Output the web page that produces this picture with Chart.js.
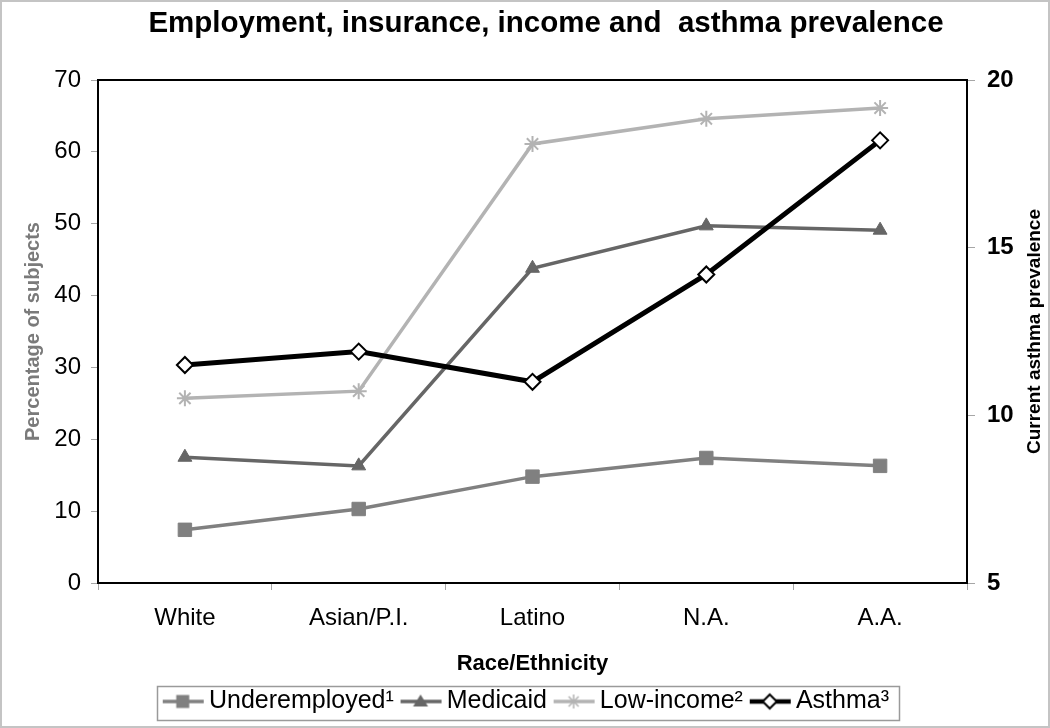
<!DOCTYPE html>
<html><head><meta charset="utf-8">
<script src="https://cdn.jsdelivr.net/npm/chart.js@4"></script>
<style>html,body{margin:0;padding:0;background:#fff}#wrap{width:1050px;height:728px;position:relative}</style>
</head><body><div id="wrap"><canvas id="c" width="1050" height="728"></canvas></div>
<script>
const categories = ['White', 'Asian/P.I.', 'Latino', 'N.A.', 'A.A.'];
const underemployed = [7.4, 10.3, 14.8, 17.4, 16.3];
const medicaid = [17.5, 16.3, 43.8, 49.7, 49.1];
const lowIncome = [25.7, 26.7, 61.1, 64.6, 66.1];
const asthma = [11.5, 11.9, 11.0, 14.2, 18.2];
const seriesNames = ['Underemployed\u00B9', 'Medicaid', 'Low-income\u00B2', 'Asthma\u00B3'];
const leftAxisRange = [0, 70, 10];
const rightAxisRange = [5, 20, 5];
const chartTitle = 'Employment, insurance, income and  asthma prevalence';
const xTitle = 'Race/Ethnicity';
const yTitle = 'Percentage of subjects';
const y1Title = 'Current asthma prevalence';

const FONT = "'Liberation Sans', Arial, sans-serif";
Chart.defaults.font.family = FONT;
Chart.defaults.color = '#000';

function makeSample(kind, color, lw, fill) {
  const c = document.createElement('canvas');
  c.width = 52; c.height = 22;
  const g = c.getContext('2d');
  const cy = 11, cx = 30;
  g.strokeStyle = color; g.lineWidth = lw;
  g.beginPath(); g.moveTo(10, cy); g.lineTo(51, cy); g.stroke();
  g.fillStyle = fill || color;
  if (kind === 'rect') {
    g.fillRect(cx - 6.5, cy - 6.5, 13, 13);
  } else if (kind === 'tri') {
    g.beginPath(); g.moveTo(cx, cy - 7); g.lineTo(cx + 7.5, cy + 5); g.lineTo(cx - 7.5, cy + 5); g.closePath(); g.fill();
  } else if (kind === 'star') {
    g.lineWidth = 1.5;
    g.beginPath();
    g.moveTo(cx - 7, cy); g.lineTo(cx + 7, cy);
    g.moveTo(cx, cy - 7); g.lineTo(cx, cy + 7);
    g.moveTo(cx - 5, cy - 5); g.lineTo(cx + 5, cy + 5);
    g.moveTo(cx - 5, cy + 5); g.lineTo(cx + 5, cy - 5);
    g.stroke();
  } else if (kind === 'diamond') {
    g.beginPath(); g.moveTo(cx, cy - 7); g.lineTo(cx + 7, cy); g.lineTo(cx, cy + 7); g.lineTo(cx - 7, cy); g.closePath();
    g.fillStyle = '#fff'; g.fill(); g.lineWidth = 2; g.strokeStyle = '#000'; g.stroke();
  }
  return c;
}
const samples = [
  makeSample('rect', '#808080', 3.5),
  makeSample('tri', '#666666', 3.5),
  makeSample('star', '#b3b3b3', 3.5),
  makeSample('diamond', '#000000', 4.5)
];

const decor = {
  id: 'decor',
  beforeDraw(chart) {
    const ctx = chart.ctx;
    ctx.save();
    ctx.fillStyle = '#fff';
    ctx.fillRect(0, 0, chart.width, chart.height);
    ctx.strokeStyle = '#c4c4c4';
    ctx.lineWidth = 2;
    ctx.strokeRect(1, 1, chart.width - 2, chart.height - 2);
    ctx.restore();
  },
  beforeDatasetsDraw(chart) {
    const {ctx, chartArea: a} = chart;
    ctx.save();
    ctx.strokeStyle = '#000';
    ctx.lineWidth = 2;
    ctx.strokeRect(a.left, a.top, a.right - a.left, a.bottom - a.top);
    ctx.restore();
  },
  afterDraw(chart) {
    const ctx = chart.ctx;
    const a = chart.chartArea;
    // chart title
    ctx.save();
    ctx.font = 'bold 29.5px ' + FONT;
    ctx.fillStyle = '#000';
    ctx.textAlign = 'center';
    ctx.textBaseline = 'middle';
    ctx.fillText(chartTitle, 546, 24);
    ctx.restore();
    // right axis title, reading bottom-to-top
    ctx.save();
    ctx.translate(1035, (a.top + a.bottom) / 2);
    ctx.rotate(-Math.PI / 2);
    ctx.font = 'bold 19px ' + FONT;
    ctx.fillStyle = '#000';
    ctx.textAlign = 'center';
    ctx.textBaseline = 'middle';
    ctx.fillText(y1Title, 0, 0);
    ctx.restore();
    // legend frame
    const hb = chart.legend.legendHitBoxes;
    if (hb && hb.length) {
      const last = hb[hb.length - 1];
      const cy = hb[0].top + hb[0].height / 2 + 1;
      const l = hb[0].left - 4, r = last.left + last.width + 10;
      ctx.save();
      ctx.strokeStyle = '#9a9a9a';
      ctx.lineWidth = 1.5;
      ctx.strokeRect(Math.round(l) + 0.5, Math.round(cy - 17) + 0.5, Math.round(r - l), 34);
      ctx.restore();
    }
  }
};

new Chart(document.getElementById('c'), {
  type: 'line',
  data: {
    labels: categories,
    datasets: [
      {label: seriesNames[0], data: underemployed, yAxisID: 'y', order: 3,
       borderColor: '#808080', backgroundColor: '#808080', borderWidth: 3.5,
       pointStyle: 'rect', pointRadius: 9.5, pointBorderWidth: 1, pointBackgroundColor: '#808080', pointBorderColor: '#808080'},
      {label: seriesNames[1], data: medicaid, yAxisID: 'y', order: 2,
       borderColor: '#666666', backgroundColor: '#666666', borderWidth: 3.5,
       pointStyle: 'triangle', pointRadius: 8, pointBorderWidth: 1, pointBackgroundColor: '#666666', pointBorderColor: '#666666'},
      {label: seriesNames[2], data: lowIncome, yAxisID: 'y', order: 1,
       borderColor: '#b3b3b3', backgroundColor: '#b3b3b3', borderWidth: 3.5,
       pointStyle: 'star', pointRadius: 8, pointBorderWidth: 2, pointBorderColor: '#b3b3b3'},
      {label: seriesNames[3], data: asthma, yAxisID: 'y1', order: 0,
       borderColor: '#000000', backgroundColor: '#ffffff', borderWidth: 5,
       pointStyle: 'rectRot', pointRadius: 8, pointBorderWidth: 2, pointBackgroundColor: '#ffffff', pointBorderColor: '#000000'}
    ]
  },
  options: {
    responsive: false,
    devicePixelRatio: 1,
    animation: false,
    layout: {padding: {left: 0, right: 0, top: 80, bottom: 4}},
    elements: {line: {tension: 0}},
    plugins: {
      title: {display: false},
      legend: {
        display: true, position: 'bottom',
        labels: {
          usePointStyle: true, pointStyleWidth: 35.5, padding: 5,
          font: {size: 25}, color: '#000',
          generateLabels: (chart) => chart.data.datasets.map((ds, i) => ({
            text: ds.label, pointStyle: samples[i], fillStyle: 'rgba(0,0,0,0)',
            strokeStyle: 'rgba(0,0,0,0)', lineWidth: 0, hidden: false, datasetIndex: i, fontColor: '#000'
          }))
        }
      },
      tooltip: {enabled: false}
    },
    scales: {
      x: {
        type: 'category', offset: true,
        grid: {offset: true, drawOnChartArea: false, drawTicks: true, tickLength: 7, color: '#a6a6a6'},
        border: {display: false},
        ticks: {font: {size: 24}, color: '#000', padding: 14, maxRotation: 0, autoSkip: false},
        title: {display: true, text: xTitle, color: '#000', font: {size: 22, weight: 'bold'}, padding: {top: 0, bottom: 7}},
        afterFit: (s) => { s.height = 101; }
      },
      y: {
        position: 'left', min: leftAxisRange[0], max: leftAxisRange[1],
        ticks: {stepSize: leftAxisRange[2], font: {size: 24}, color: '#000', padding: 10},
        grid: {drawOnChartArea: false, tickLength: 7, color: '#a6a6a6'},
        border: {display: false},
        title: {display: true, text: yTitle, color: '#7a7a7a', font: {size: 20, weight: 'bold'}, padding: {top: 21, bottom: 0}},
        afterFit: (s) => { s.width = 98; }
      },
      y1: {
        position: 'right', min: rightAxisRange[0], max: rightAxisRange[1],
        ticks: {stepSize: rightAxisRange[2], font: {size: 24, weight: 'bold'}, color: '#000', padding: 12},
        grid: {drawOnChartArea: false, tickLength: 8, color: '#a6a6a6'},
        border: {display: false},
        afterFit: (s) => { s.width = 83; }
      }
    }
  },
  plugins: [decor]
});
</script>
</body></html>
